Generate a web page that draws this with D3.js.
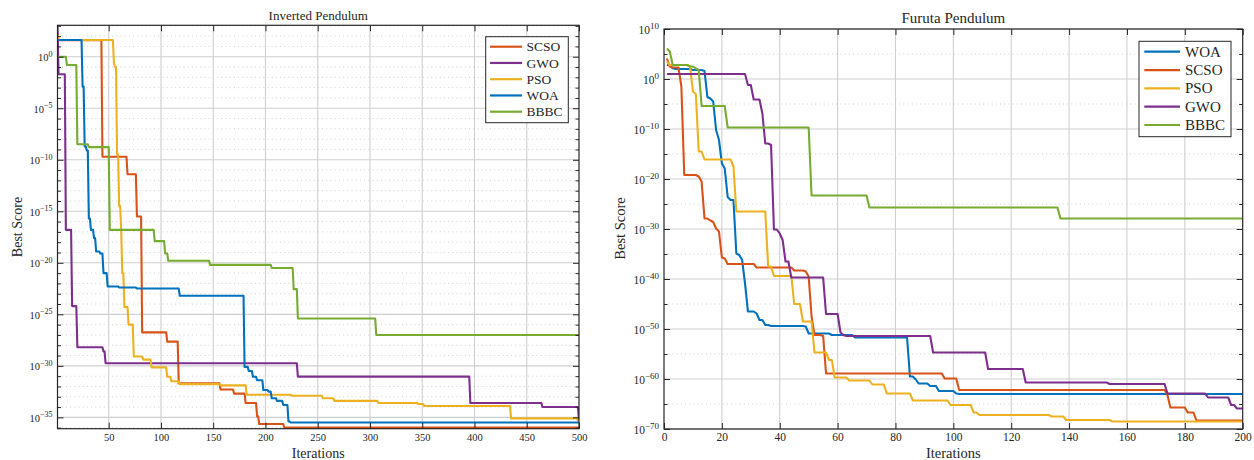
<!DOCTYPE html>
<html>
<head>
<meta charset="utf-8">
<script src="https://cdn.jsdelivr.net/npm/d3@7"></script>
<style>
  body { margin: 0; background: #fff; }
  svg { display: block; }
  text { font-family: "Liberation Serif", "Times New Roman", serif; fill: #262626; }
</style>
</head>
<body>
<svg id="chart" width="1254" height="460"></svg>
<script>
// Convergence curves: each entry is [iteration, log10(best score)]; the value holds
// until the next entry, where the curve steps down.

// ---- Inverted Pendulum (500 iterations) ----
const invLegend = ["SCSO", "GWO", "PSO", "WOA", "BBBC"];
const invXTicks = [50, 100, 150, 200, 250, 300, 350, 400, 450, 500];
const invYMajor = [0, -5, -10, -15, -20, -25, -30, -35];
const invSCSO = [[1,1.6],[44,-9.7],[68,-11.4],[77,-15.5],[82,-26.75],[106,-27.65],[117,-31.7],[157,-32.3],[170,-32.7],[181,-33.6],[192,-34.9],[194,-35.65],[218,-36.0],[500,-36.0]];
const invGWO = [[1,3.05],[2,-1.7],[9,-16.8],[15,-24.2],[20,-28.2],[45,-28.6],[47,-29.75],[231,-31.05],[396,-33.6],[465,-34.0],[500,-35.3]];
const invPSO = [[1,2.1],[2,1.62],[55,-0.6],[56,-1.0],[58,-9.5],[60,-14.5],[62,-17],[63,-21],[65,-24.3],[69,-26.0],[74,-29.1],[83,-29.4],[91,-30.15],[106,-31.06],[110,-31.5],[118,-31.77],[157,-31.9],[182,-32.8],[225,-32.9],[255,-33.15],[266,-33.4],[308,-33.6],[346,-33.7],[352,-33.9],[435,-35.1],[499,-35.3],[500,-35.3]];
const invWOA = [[1,1.62],[25,-2.9],[27,-8.7],[29,-9.1],[31,-15.7],[33,-16.8],[36,-17.6],[38,-18.9],[42,-19.1],[45,-21.0],[49,-22.3],[60,-22.4],[77,-22.5],[118,-23.2],[180,-30.1],[184,-30.5],[188,-31.06],[192,-31.4],[198,-32.35],[203,-32.5],[206,-33.15],[211,-33.4],[217,-33.8],[222,-35.4],[224,-35.5],[500,-35.5]];
const invBBBC = [[1,0.0],[10,-0.8],[20,-8.5],[31,-8.77],[51,-16.8],[94,-17.9],[104,-19.1],[107,-19.8],[147,-20.2],[206,-20.5],[227,-22.55],[231,-25.4],[306,-27.0],[500,-27.0]];

// ---- Furuta Pendulum (200 iterations) ----
const furLegend = ["WOA", "SCSO", "PSO", "GWO", "BBBC"];
const furXTicks = [0, 20, 40, 60, 80, 100, 120, 140, 160, 180, 200];
const furYMajor = [10, 0, -10, -20, -30, -40, -50, -60, -70];
const furWOA = [[1,2.8],[3,2.13],[4,2.0],[10,1.8],[14,1.6],[15,-3.6],[16,-3.9],[17,-4.5],[18,-10.2],[19,-12.2],[20,-16.9],[21,-17.9],[22,-23.6],[23,-24.2],[25,-34.9],[26,-35.2],[27,-36.2],[28,-40.9],[29,-46.5],[32,-46.9],[33,-48.2],[35,-49.2],[37,-49.4],[49,-49.5],[50,-50.9],[58,-51.2],[66,-51.7],[84,-51.7],[85,-59.5],[87,-60.1],[88,-60.9],[92,-61.4],[95,-62.4],[101,-62.9],[102,-63.0],[200,-63.0]];
const furSCSO = [[1,4.1],[2,2.5],[3,2.3],[5,2.3],[6,-1.5],[7,-19.2],[12,-19.5],[13,-20.5],[14,-27.9],[16,-28.3],[17,-28.6],[18,-29.9],[19,-30.5],[20,-35.7],[21,-35.9],[22,-37.0],[32,-37.7],[45,-38.3],[49,-38.5],[50,-39.5],[51,-47.5],[52,-51.2],[55,-51.4],[56,-58.9],[97,-59.9],[102,-62.2],[174,-63.2],[175,-65.7],[181,-66.7],[184,-68.3],[200,-68.3]];
const furPSO = [[1,3.5],[2,2.8],[9,2.5],[10,-2.5],[11,-3.0],[12,-14.5],[14,-16.1],[24,-17.5],[25,-26.5],[36,-37.5],[38,-39.4],[45,-45.0],[48,-48.5],[52,-54.7],[57,-56.2],[59,-59.7],[64,-60.3],[72,-61.1],[77,-62.9],[86,-64.3],[99,-65.2],[107,-66.7],[109,-67.2],[134,-67.5],[139,-68.2],[155,-68.5],[200,-68.5]];
const furGWO = [[1,1.0],[28,1.0],[29,-1.2],[31,-4.1],[34,-6.9],[35,-12.9],[37,-13.2],[38,-30.1],[40,-30.9],[41,-32.2],[42,-36.5],[44,-39.7],[56,-47.0],[61,-50.7],[62,-51.2],[63,-51.4],[93,-54.7],[112,-58.0],[125,-60.7],[154,-61.0],[174,-62.9],[188,-63.7],[196,-65.2],[198,-65.9],[200,-65.9]];
const furBBBC = [[1,6.1],[2,5.5],[3,2.8],[9,2.5],[11,2.1],[12,1.8],[13,-5.4],[22,-9.7],[51,-23.3],[71,-25.7],[137,-27.9],[200,-27.9]];

const colors = { WOA: "#0072BD", SCSO: "#D95319", PSO: "#EDB120", GWO: "#7E2F8E", BBBC: "#77AC30" };

const svg = d3.select("#chart");
const ink = "#262626";

// Expand step breakpoints so each drop happens between consecutive iterations.
function stepPoints(bp) {
  const pts = [];
  bp.forEach((p, i) => {
    pts.push(p);
    const n = bp[i + 1];
    if (n && n[0] - 1 > p[0]) pts.push([n[0] - 1, p[1]]);
  });
  return pts;
}

function supLabel(sel, supSize) {
  sel.each(function (d) {
    const e = Math.round(Math.log10(d));
    const t = d3.select(this);
    t.text(null);
    t.append("tspan").text("10");
    t.append("tspan").attr("dy", "-0.55em").attr("font-size", supSize)
      .text(e < 0 ? "\u2212" + (-e) : String(e));
  });
}

function drawPanel(cfg) {
  const g = svg.append("g");
  const x = d3.scaleLinear().domain(cfg.xDomain).range([cfg.left, cfg.right]);
  const y = d3.scaleLog().domain([Math.pow(10, cfg.yExp[0]), Math.pow(10, cfg.yExp[1])]).range([cfg.bottom, cfg.top]);
  const majorVals = cfg.yMajor.map(e => Math.pow(10, e));
  const minorVals = cfg.yMinor.map(e => Math.pow(10, e));

  // grid
  const grid = g.append("g");
  grid.selectAll("line.minor").data(minorVals).join("line")
    .attr("x1", cfg.left).attr("x2", cfg.right)
    .attr("y1", d => y(d)).attr("y2", d => y(d))
    .attr("stroke", "#c4c4c4").attr("stroke-width", 0.8).attr("stroke-dasharray", "1,3.2");
  grid.selectAll("line.majy").data(majorVals).join("line")
    .attr("x1", cfg.left).attr("x2", cfg.right)
    .attr("y1", d => y(d)).attr("y2", d => y(d))
    .attr("stroke", "#cfcfcf").attr("stroke-width", 1.1);
  grid.selectAll("line.majx").data(cfg.xTicks.filter(v => v > cfg.xDomain[0] && v < cfg.xDomain[1])).join("line")
    .attr("x1", d => x(d)).attr("x2", d => x(d))
    .attr("y1", cfg.top).attr("y2", cfg.bottom)
    .attr("stroke", "#cfcfcf").attr("stroke-width", 1.1);

  // curves
  const clipId = "clip-" + cfg.id;
  svg.append("defs").append("clipPath").attr("id", clipId)
    .append("rect").attr("x", cfg.left).attr("y", cfg.top - 1)
    .attr("width", cfg.right - cfg.left).attr("height", cfg.bottom - cfg.top + 2);
  const line = d3.line().x(d => x(d[0])).y(d => y(Math.pow(10, d[1])));
  const curves = g.append("g").attr("clip-path", `url(#${clipId})`);
  cfg.names.forEach(name => {
    curves.append("path")
      .attr("d", line(stepPoints(cfg.series[name])))
      .attr("fill", "none").attr("stroke", colors[name])
      .attr("stroke-width", 2.1).attr("stroke-linejoin", "round");
  });

  // axes (ticks pointing inward)
  const tl = cfg.tickLen, tm = cfg.minorLen;
  const bottomAxis = g.append("g").attr("transform", `translate(0,${cfg.bottom})`)
    .call(d3.axisBottom(x).tickValues(cfg.xTicks).tickSize(-tl).tickPadding(cfg.xPad));
  bottomAxis.selectAll("text").attr("font-size", cfg.tickFont).style("font-family", "Liberation Serif").attr("fill", ink);
  if (cfg.hideFirstX) bottomAxis.selectAll(".tick text").filter(d => d === cfg.xDomain[0]).remove();
  g.append("g").attr("transform", `translate(0,${cfg.top})`)
    .call(d3.axisTop(x).tickValues(cfg.xTicks).tickSize(-tl).tickFormat(""));

  const leftAxis = g.append("g").attr("transform", `translate(${cfg.left},0)`)
    .call(d3.axisLeft(y).tickValues(majorVals).tickSize(-tl).tickPadding(cfg.yPad));
  leftAxis.selectAll(".tick text").attr("font-size", cfg.tickFont).attr("fill", ink)
    .style("font-family", "Liberation Serif").attr("dy", "0.36em").call(supLabel, cfg.supFont);
  g.append("g").attr("transform", `translate(${cfg.left},0)`)
    .call(d3.axisLeft(y).tickValues(minorVals).tickSize(-tm).tickFormat(""));
  g.append("g").attr("transform", `translate(${cfg.right},0)`)
    .call(d3.axisRight(y).tickValues(majorVals).tickSize(-tl).tickFormat(""));
  g.append("g").attr("transform", `translate(${cfg.right},0)`)
    .call(d3.axisRight(y).tickValues(minorVals).tickSize(-tm).tickFormat(""));

  g.selectAll(".domain").remove();
  g.selectAll(".tick line").attr("stroke", ink).attr("stroke-width", 1);

  g.append("rect").attr("x", cfg.left).attr("y", cfg.top)
    .attr("width", cfg.right - cfg.left).attr("height", cfg.bottom - cfg.top)
    .attr("fill", "none").attr("stroke", ink).attr("stroke-width", 1.2);

  // labels
  const cx = (cfg.left + cfg.right) / 2;
  g.append("text").attr("x", cx).attr("y", cfg.titleY).attr("text-anchor", "middle")
    .attr("font-size", cfg.titleFont).text(cfg.title);
  g.append("text").attr("x", cx).attr("y", cfg.xLabelY).attr("text-anchor", "middle")
    .attr("font-size", cfg.labelFont).text("Iterations");
  g.append("text").attr("transform", `translate(${cfg.yLabelX},${cfg.yLabelCY}) rotate(-90)`)
    .attr("text-anchor", "middle").attr("font-size", cfg.labelFont).text("Best Score");

  // legend
  const L = cfg.legend;
  const lg = g.append("g");
  lg.append("rect").attr("x", L.x).attr("y", L.y).attr("width", L.w).attr("height", L.h)
    .attr("fill", "#fff").attr("stroke", ink).attr("stroke-width", 1);
  cfg.names.forEach((name, i) => {
    const ry = L.row0 + i * L.step;
    lg.append("line").attr("x1", L.lx1).attr("x2", L.lx2).attr("y1", ry).attr("y2", ry)
      .attr("stroke", colors[name]).attr("stroke-width", 2.2);
    lg.append("text").attr("x", L.tx).attr("y", ry).attr("dy", "0.34em")
      .attr("font-size", L.font).text(name);
  });
}

drawPanel({
  id: "inv", title: "Inverted Pendulum",
  left: 57.5, right: 579, top: 25.3, bottom: 428.7,
  xDomain: [1, 500], yExp: [-36.1, 3.05],
  xTicks: invXTicks, yMajor: invYMajor, yMinor: d3.range(-36, 4).filter(e => e % 5 !== 0),
  names: invLegend,
  series: { SCSO: invSCSO, GWO: invGWO, PSO: invPSO, WOA: invWOA, BBBC: invBBBC },
  tickLen: 6, minorLen: 3.5, tickFont: 10.5, supFont: 8, xPad: 5, yPad: 5,
  hideFirstX: true,
  titleFont: 13, titleY: 20, labelFont: 14, xLabelY: 458, yLabelX: 21.5, yLabelCY: 227,
  legend: { x: 485.7, y: 36.7, w: 82.6, h: 86, row0: 46.7, step: 16.25, lx1: 490, lx2: 522, tx: 526.5, font: 13.5 }
});

drawPanel({
  id: "fur", title: "Furuta Pendulum",
  left: 664, right: 1242.7, top: 29, bottom: 429,
  xDomain: [0, 200], yExp: [-70, 10],
  xTicks: furXTicks, yMajor: furYMajor, yMinor: d3.range(-65, 10, 10),
  names: furLegend,
  series: { WOA: furWOA, SCSO: furSCSO, PSO: furPSO, GWO: furGWO, BBBC: furBBBC },
  tickLen: 6, minorLen: 3.5, tickFont: 11.5, supFont: 9, xPad: 4, yPad: 5,
  hideFirstX: false,
  titleFont: 15, titleY: 22.5, labelFont: 14.5, xLabelY: 457.5, yLabelX: 625, yLabelCY: 228.5,
  legend: { x: 1139, y: 41.3, w: 92, h: 95.4, row0: 51.7, step: 18.33, lx1: 1144.3, lx2: 1180, tx: 1185, font: 15 }
});
</script>
</body>
</html>
